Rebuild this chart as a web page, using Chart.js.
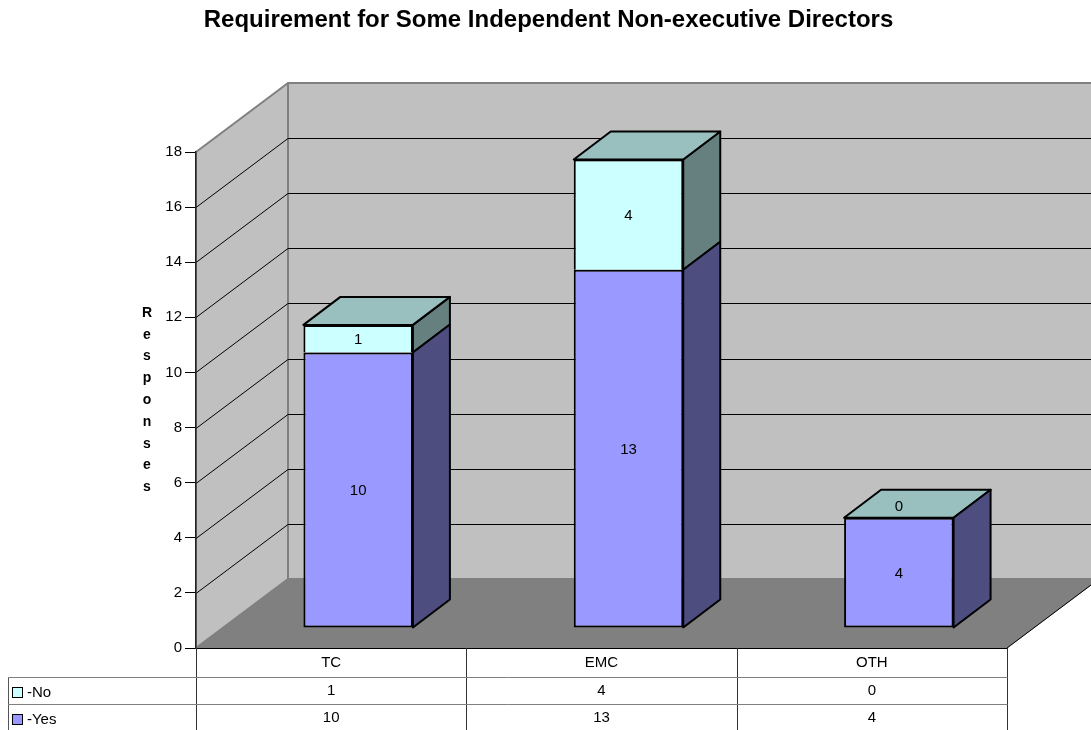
<!DOCTYPE html>
<html>
<head>
<meta charset="utf-8">
<style>
  body { margin: 0; background: #fff; }
  canvas { display: block; }
</style>
<script src="https://cdn.jsdelivr.net/npm/chart.js@4"></script>
</head>
<body>
<canvas id="chart" width="1091" height="730"></canvas>
<script>
const titleText = "Requirement for Some Independent Non-executive Directors";
const yTitle = "Responses";
const categories = ["TC", "EMC", "OTH"];
const yesValues = [10, 13, 4];
const noValues = [1, 4, 0];

const FONT = '"Liberation Sans", Arial, sans-serif';
// depth of the floor and of the bars, in px
const wallDx = 92, wallDy = -69;
const barShiftX = 27, barShiftY = -20;
const barDx = 37, barDy = -28;

const line = (ctx, pts, color, w) => {
  ctx.beginPath();
  pts.forEach((p, i) => (i ? ctx.lineTo(p[0], p[1]) : ctx.moveTo(p[0], p[1])));
  ctx.strokeStyle = color;
  ctx.lineWidth = w;
  ctx.stroke();
};
const poly = (ctx, pts, fill, stroke, w) => {
  ctx.beginPath();
  pts.forEach((p, i) => (i ? ctx.lineTo(p[0], p[1]) : ctx.moveTo(p[0], p[1])));
  ctx.closePath();
  ctx.fillStyle = fill;
  ctx.fill();
  ctx.strokeStyle = stroke;
  ctx.lineWidth = w;
  ctx.lineJoin = "round";
  ctx.stroke();
};

const walls = {
  id: "walls",
  beforeDraw(chart) {
    const { ctx, chartArea: a, scales: { y } } = chart;
    const W = chart.width + 100;
    const bx = a.left + wallDx;
    ctx.save();
    ctx.beginPath();
    ctx.rect(0, 0, chart.width, chart.height);
    ctx.clip();
    // side wall, back wall, floor
    poly(ctx, [[a.left, a.top], [bx, a.top + wallDy], [bx, a.bottom + wallDy], [a.left, a.bottom]], "#c0c0c0", "#808080", 2);
    poly(ctx, [[bx, a.top + wallDy], [W, a.top + wallDy], [W, a.bottom + wallDy], [bx, a.bottom + wallDy]], "#c0c0c0", "#808080", 2);
    poly(ctx, [[a.left, a.bottom], [a.right, a.bottom], [a.right + wallDx, a.bottom + wallDy], [bx, a.bottom + wallDy]], "#808080", "#808080", 1);
    line(ctx, [[a.right, a.bottom], [a.right + wallDx, a.bottom + wallDy]], "#000", 1);
    y.ticks.forEach((t) => {
      if (t.value === 0 || t.value === y.max) return;
      const py = Math.round(y.getPixelForValue(t.value)) + 0.5;
      line(ctx, [[a.left, py], [bx, py + wallDy], [W, py + wallDy]], "#000", 1);
    });
    ctx.restore();
  },
  beforeDatasetDraw(chart) {
    chart.ctx.save();
    chart.ctx.translate(barShiftX, barShiftY);
  },
  afterDatasetDraw(chart, args) {
    const { ctx } = chart;
    const isNo = args.index === 1;
    args.meta.data.forEach((bar) => {
      const l = bar.x - bar.width / 2, r = bar.x + bar.width / 2;
      const t = bar.y, b = bar.base;
      poly(ctx, [[r, t], [r + barDx, t + barDy], [r + barDx, b + barDy], [r, b]], isNo ? "#668080" : "#4d4d80", "#000", 2);
      if (isNo) {
        poly(ctx, [[l, t], [l + barDx, t + barDy], [r + barDx, t + barDy], [r, t]], "#99bfbf", "#000", 2);
      }
    });
    ctx.restore();
  },
  afterDraw(chart) {
    const { ctx, chartArea: a, scales: { x, y } } = chart;
    ctx.save();
    ctx.fillStyle = "#000";
    ctx.textAlign = "center";
    ctx.textBaseline = "middle";
    // values on the bars
    ctx.font = "15px " + FONT;
    [yesValues, noValues].forEach((vals, d) => {
      const meta = chart.getDatasetMeta(d);
      vals.forEach((v, i) => {
        const bar = meta.data[i];
        const yy = (bar.y + bar.base) / 2 + barShiftY + 1 - (v === 0 ? 12 : 0);
        ctx.fillText(String(v), bar.x + barShiftX, yy);
      });
    });

    // data table
    const rows = [
      { name: "-No", vals: noValues, color: "#ccffff", y: 677 },
      { name: "-Yes", vals: yesValues, color: "#9999ff", y: 704 },
    ];
    const band = (a.right - a.left) / categories.length;
    for (let i = 0; i <= categories.length; i++) {
      const vx = Math.round(a.left + band * i) + 0.5;
      line(ctx, [[vx, a.bottom], [vx, chart.height]], "#333", 1);
    }
    line(ctx, [[8.5, 677], [8.5, chart.height]], "#555", 1);
    rows.forEach((row) => {
      line(ctx, [[8, row.y + 0.5], [a.right + 0.5, row.y + 0.5]], "#808080", 1);
      row.vals.forEach((v, i) => {
        ctx.fillText(String(v), x.getPixelForValue(i), row.y + 14);
      });
      ctx.fillStyle = row.color;
      ctx.fillRect(12.5, row.y + 10.5, 10, 10);
      ctx.strokeStyle = "#000";
      ctx.lineWidth = 1;
      ctx.strokeRect(12.5, row.y + 10.5, 10, 10);
      ctx.fillStyle = "#000";
      ctx.textAlign = "left";
      ctx.fillText(row.name, 27, row.y + 16);
      ctx.textAlign = "center";
    });

    // titles
    ctx.font = "bold 14px " + FONT;
    yTitle.split("").forEach((c, i) => {
      ctx.fillText(c, 147, 313 + i * 21.8);
    });
    ctx.font = "bold 24px " + FONT;
    ctx.fillText(titleText, 548.5, 20);
    ctx.restore();
  },
};

new Chart(document.getElementById("chart"), {
  type: "bar",
  data: {
    labels: categories,
    datasets: [
      { label: "-Yes", data: yesValues, backgroundColor: "#9999ff", borderWidth: 2 },
      { label: "-No", data: noValues, backgroundColor: "#ccffff", borderWidth: { top: 2, left: 2, right: 2, bottom: 0 } },
    ].map((d) => ({
      ...d,
      borderColor: "#000",
      borderSkipped: false,
      clip: false,
      categoryPercentage: 1,
      barPercentage: 0.405,
    })),
  },
  plugins: [walls],
  options: {
    responsive: false,
    animation: false,
    events: [],
    layout: { padding: { top: 152, right: 84, bottom: 0, left: 0 } },
    plugins: { legend: { display: false }, tooltip: { enabled: false } },
    scales: {
      x: {
        stacked: true,
        afterFit: (s) => { s.height = 82; },
        grid: { display: false, drawTicks: false },
        border: { display: true, color: "#000", width: 1 },
        ticks: { color: "#000", font: { family: FONT, size: 15 }, padding: 6 },
      },
      y: {
        stacked: true,
        min: 0,
        max: 18,
        afterFit: (s) => { s.width = 196; },
        grid: { drawOnChartArea: false, tickLength: 11, tickColor: "#000" },
        border: { display: true, color: "#222", width: 1.5 },
        ticks: { stepSize: 2, color: "#000", font: { family: FONT, size: 15 }, padding: 3 },
      },
    },
  },
});
</script>
</body>
</html>
